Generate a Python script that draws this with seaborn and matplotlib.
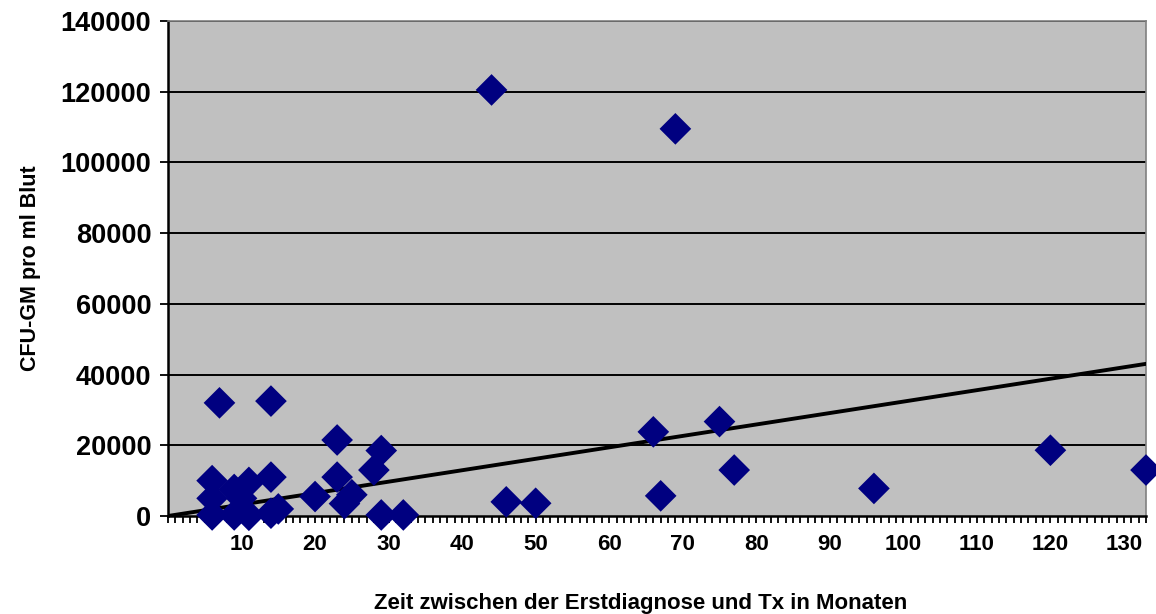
import matplotlib
matplotlib.use("Agg")
import matplotlib.pyplot as plt
import seaborn as sns
import numpy as np
import pandas as pd
from matplotlib.ticker import MultipleLocator

months = [6, 6, 6, 7, 9, 9, 10, 11, 11, 14, 14, 14, 15, 20, 23, 23, 24, 25,
          28, 29, 29, 32, 44, 46, 50, 66, 67, 69, 75, 77, 96, 120, 133]
cfu = [10000, 5000, 300, 32000, 7500, 300, 5000, 9500, 200, 32500, 11000, 800,
       2000, 5500, 21500, 11000, 3500, 6000, 13000, 18500, 300, 300, 120500,
       4000, 3600, 23800, 5700, 109500, 26700, 13000, 7800, 18600, 13000]

x_ticks = [10, 20, 30, 40, 50, 60, 70, 80, 90, 100, 110, 120, 130]
y_ticks = [0, 20000, 40000, 60000, 80000, 100000, 120000, 140000]

df = pd.DataFrame({"Monate": months, "CFU": cfu})

sns.set_theme(style="white")
plt.rcParams['font.family'] = ['Liberation Sans', 'DejaVu Sans']
plt.rcParams['text.color'] = 'black'
plt.rcParams['axes.labelcolor'] = 'black'
plt.rcParams['xtick.color'] = 'black'
plt.rcParams['ytick.color'] = 'black'

fig = plt.figure(figsize=(11.56, 6.14), dpi=100)
ax = fig.add_axes([168/1156, 1 - 516/614, (1146-168)/1156, (516-21)/614])
ax.set_facecolor("#C0C0C0")
xmax = 133
ax.set_xlim(0, xmax)
ax.set_ylim(0, 140000)

for yv in y_ticks[1:]:
    ax.axhline(yv, color="black", lw=1.4, zorder=1)

# linear trendline through the origin (least squares)
x = np.asarray(months, dtype=float)
y = np.asarray(cfu, dtype=float)
slope = (x * y).sum() / (x * x).sum()
trend = pd.DataFrame({"Monate": [0, xmax], "CFU": [0, slope * xmax]})
sns.lineplot(data=trend, x="Monate", y="CFU", ax=ax, color="black", lw=2.8,
             zorder=3)

sns.scatterplot(data=df, x="Monate", y="CFU", ax=ax, marker="D", s=260,
                color="#000080", edgecolor="none", zorder=4, clip_on=False)

ax.set_xlim(0, xmax)
ax.set_ylim(0, 140000)
ax.set_xticks(x_ticks)
ax.xaxis.set_minor_locator(MultipleLocator(1))
ax.set_yticks(y_ticks)
ax.set_yticklabels([str(v) for v in y_ticks])
ax.tick_params(axis="x", which="both", direction="out", length=5, width=1.3,
               color="black", labelsize=16, pad=8, bottom=True)
ax.tick_params(axis="y", which="major", direction="out", length=6, width=1.3,
               color="black", labelsize=19.5, pad=6, left=True)
for lab in ax.get_xticklabels() + ax.get_yticklabels():
    lab.set_fontweight("bold")

for side in ["left", "bottom"]:
    ax.spines[side].set_color("black")
    ax.spines[side].set_linewidth(1.8)
for side in ["top", "right"]:
    ax.spines[side].set_color("#808080")
    ax.spines[side].set_linewidth(1.2)

ax.set_xlabel("Zeit zwischen der Erstdiagnose und Tx in Monaten",
              fontsize=16, fontweight="bold")
ax.xaxis.set_label_coords(0.483, -0.155)
ax.set_ylabel("CFU-GM pro ml Blut", fontsize=15.5, fontweight="bold", labelpad=14)

fig.savefig("out.png", dpi=100)
